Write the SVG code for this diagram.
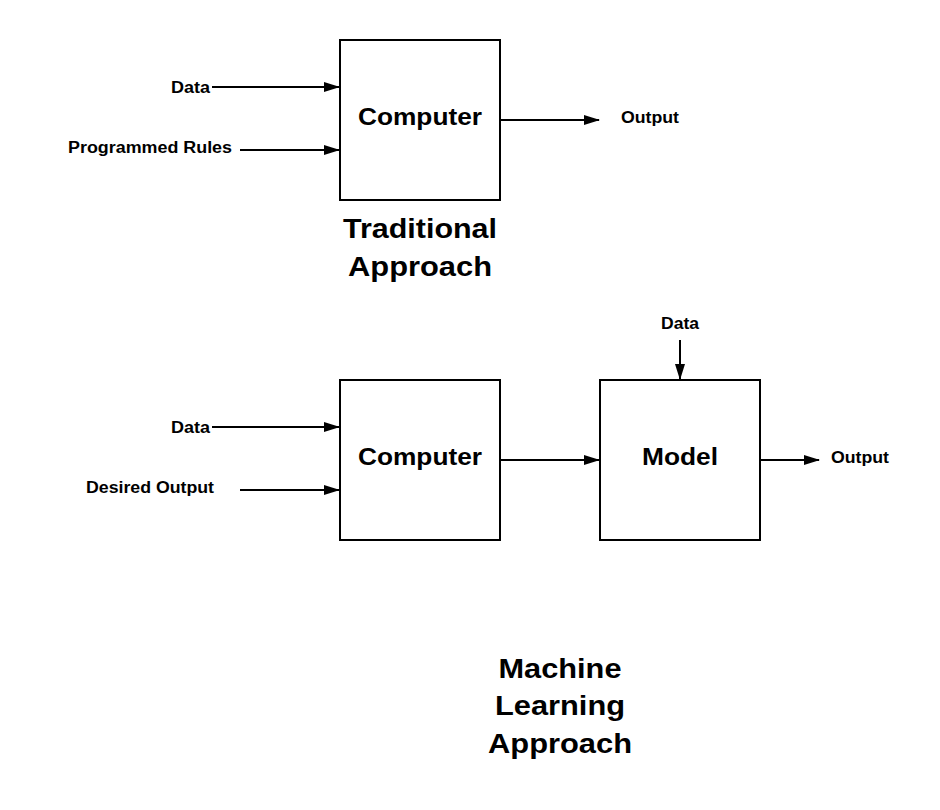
<svg xmlns="http://www.w3.org/2000/svg" width="940" height="810" viewBox="0 0 940 810">
<style>
.box{fill:#fff;stroke:#000;stroke-width:2}
.lbl{font-family:"Liberation Sans",Arial,sans-serif;font-weight:bold;font-size:16px;fill:#000}
.big{font-family:"Liberation Sans",Arial,sans-serif;font-weight:bold;font-size:24px;fill:#000;text-anchor:middle}
.title{font-family:"Liberation Sans",Arial,sans-serif;font-weight:bold;font-size:28px;fill:#000;text-anchor:middle}
.con{stroke:#000;stroke-width:2;fill:none;marker-end:url(#ah)}
</style>
<defs>
<marker id="ah" markerWidth="16" markerHeight="10" refX="15" refY="5" orient="auto" markerUnits="userSpaceOnUse">
<path d="M0,0 L16,5 L0,10 Z" fill="#000"/>
</marker>
</defs>
<rect width="940" height="810" fill="#fff"/>
<g id="computer1"><rect class="box" x="340" y="40" width="160" height="160"/><text class="big" x="420" y="125" textLength="124" lengthAdjust="spacingAndGlyphs">Computer</text></g>
<g id="computer2"><rect class="box" x="340" y="380" width="160" height="160"/><text class="big" x="420" y="465" textLength="124" lengthAdjust="spacingAndGlyphs">Computer</text></g>
<g id="model"><rect class="box" x="600" y="380" width="160" height="160"/><text class="big" x="680" y="465" textLength="76" lengthAdjust="spacingAndGlyphs">Model</text></g>
<g id="labels">
<text class="lbl" x="171" y="93" textLength="39" lengthAdjust="spacingAndGlyphs">Data</text>
<text class="lbl" x="68" y="153" textLength="164" lengthAdjust="spacingAndGlyphs">Programmed Rules</text>
<text class="lbl" x="621" y="123" textLength="58" lengthAdjust="spacingAndGlyphs">Output</text>
<text class="lbl" x="171" y="433" textLength="39" lengthAdjust="spacingAndGlyphs">Data</text>
<text class="lbl" x="86" y="493" textLength="128" lengthAdjust="spacingAndGlyphs">Desired Output</text>
<text class="lbl" x="661" y="329" textLength="38" lengthAdjust="spacingAndGlyphs">Data</text>
<text class="lbl" x="831" y="463" textLength="58" lengthAdjust="spacingAndGlyphs">Output</text>
</g>
<g id="titles">
<text class="title" x="420" y="238" textLength="154" lengthAdjust="spacingAndGlyphs">Traditional</text>
<text class="title" x="420" y="276" textLength="144" lengthAdjust="spacingAndGlyphs">Approach</text>
<text class="title" x="560" y="678" textLength="123" lengthAdjust="spacingAndGlyphs">Machine</text>
<text class="title" x="560" y="715" textLength="130" lengthAdjust="spacingAndGlyphs">Learning</text>
<text class="title" x="560" y="753" textLength="144" lengthAdjust="spacingAndGlyphs">Approach</text>
</g>
<g id="connectors">
<line class="con" x1="212" y1="87" x2="339" y2="87"/>
<line class="con" x1="240" y1="150" x2="339" y2="150"/>
<line class="con" x1="500" y1="120" x2="599" y2="120"/>
<line class="con" x1="212" y1="427" x2="339" y2="427"/>
<line class="con" x1="240" y1="490" x2="339" y2="490"/>
<line class="con" x1="500" y1="460" x2="599" y2="460"/>
<line class="con" x1="680" y1="340" x2="680" y2="379"/>
<line class="con" x1="760" y1="460" x2="819" y2="460"/>
</g>
</svg>
